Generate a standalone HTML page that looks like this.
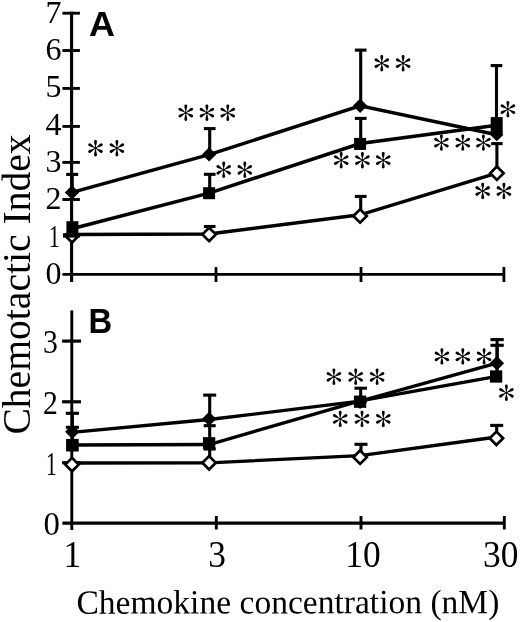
<!DOCTYPE html>
<html><head><meta charset="utf-8"><title>Chemotactic Index</title>
<style>
html,body{margin:0;padding:0;background:#fff;}
body{width:520px;height:622px;overflow:hidden;font-family:"Liberation Serif",serif;}
svg{display:block;filter:grayscale(1);}
text{font-family:"Liberation Serif",serif;fill:#000;}
text.b{font-family:"Liberation Sans",sans-serif;font-weight:bold;}
</style></head><body>
<svg width="520" height="622" viewBox="0 0 520 622">
<defs>
<path id="arm" d="M0,0.4 C0.45,-2.4 1.45,-5.2 1.45,-6.75 A1.45,1.45 0 0 0 -1.45,-6.75 C-1.45,-5.2 -0.45,-2.4 0,0.4 Z"/>
<g id="ast" fill="#000"><circle cx="0" cy="0" r="1.25"/><use href="#arm"/><use href="#arm" transform="rotate(60)"/><use href="#arm" transform="rotate(120)"/><use href="#arm" transform="rotate(180)"/><use href="#arm" transform="rotate(240)"/><use href="#arm" transform="rotate(300)"/></g>
</defs>
<rect x="0" y="0" width="520" height="622" fill="#fff"/>
<g id="panelA">
<line x1="71.60" y1="11.75" x2="71.60" y2="282.00" stroke="#000" stroke-width="3.1"/>
<polygon points="65.30,235.80 72.00,229.10 78.70,235.80 72.00,242.50" fill="#fff" stroke="#000" stroke-width="2.7"/>
<line x1="62.40" y1="274.40" x2="504.00" y2="274.40" stroke="#000" stroke-width="2.8"/>
<line x1="63.00" y1="235.40" x2="79.90" y2="235.40" stroke="#000" stroke-width="4.4"/>
<line x1="62.40" y1="199.50" x2="79.90" y2="199.50" stroke="#000" stroke-width="2.9"/>
<line x1="62.40" y1="162.40" x2="79.90" y2="162.40" stroke="#000" stroke-width="2.9"/>
<line x1="62.40" y1="126.40" x2="79.90" y2="126.40" stroke="#000" stroke-width="2.9"/>
<line x1="62.40" y1="88.40" x2="79.90" y2="88.40" stroke="#000" stroke-width="2.9"/>
<line x1="62.40" y1="50.50" x2="79.90" y2="50.50" stroke="#000" stroke-width="2.9"/>
<line x1="62.40" y1="13.20" x2="79.90" y2="13.20" stroke="#000" stroke-width="2.9"/>
<line x1="216.00" y1="267.00" x2="216.00" y2="282.00" stroke="#000" stroke-width="2.8"/>
<line x1="361.00" y1="267.00" x2="361.00" y2="282.00" stroke="#000" stroke-width="2.8"/>
<line x1="503.90" y1="267.00" x2="503.90" y2="282.00" stroke="#000" stroke-width="2.8"/>
<text x="61.4" y="283.90" font-size="32" text-anchor="end">0</text>
<text transform="translate(59.8,246.60) scale(0.69,1)" font-size="32" text-anchor="end">1</text>
<text x="61.4" y="209.30" font-size="32" text-anchor="end">2</text>
<text x="61.4" y="172.00" font-size="32" text-anchor="end">3</text>
<text x="61.4" y="134.70" font-size="32" text-anchor="end">4</text>
<text x="61.4" y="97.40" font-size="32" text-anchor="end">5</text>
<text x="61.4" y="60.10" font-size="32" text-anchor="end">6</text>
<text x="61.4" y="22.80" font-size="32" text-anchor="end">7</text>
<text transform="translate(89.0,35.7) scale(1.015,1)" font-size="35.4" class="b">A</text>
<line x1="72.20" y1="192.40" x2="72.20" y2="174.40" stroke="#000" stroke-width="3.1"/>
<line x1="66.20" y1="174.40" x2="78.20" y2="174.40" stroke="#000" stroke-width="3.1"/>
<line x1="209.70" y1="154.40" x2="209.70" y2="128.60" stroke="#000" stroke-width="3.1"/>
<line x1="203.85" y1="128.60" x2="215.55" y2="128.60" stroke="#000" stroke-width="3.1"/>
<line x1="360.70" y1="105.80" x2="360.70" y2="50.10" stroke="#000" stroke-width="3.1"/>
<line x1="354.85" y1="50.10" x2="366.55" y2="50.10" stroke="#000" stroke-width="3.1"/>
<line x1="496.50" y1="123.20" x2="496.50" y2="65.60" stroke="#000" stroke-width="3.1"/>
<line x1="490.65" y1="65.60" x2="502.35" y2="65.60" stroke="#000" stroke-width="3.1"/>
<line x1="209.70" y1="193.20" x2="209.70" y2="174.30" stroke="#000" stroke-width="3.1"/>
<line x1="203.85" y1="174.30" x2="215.55" y2="174.30" stroke="#000" stroke-width="3.1"/>
<line x1="360.70" y1="143.90" x2="360.70" y2="118.40" stroke="#000" stroke-width="3.1"/>
<line x1="354.85" y1="118.40" x2="366.55" y2="118.40" stroke="#000" stroke-width="3.1"/>
<line x1="209.70" y1="234.40" x2="209.70" y2="226.50" stroke="#000" stroke-width="3.1"/>
<line x1="203.85" y1="226.50" x2="215.55" y2="226.50" stroke="#000" stroke-width="3.1"/>
<line x1="360.70" y1="216.00" x2="360.70" y2="196.40" stroke="#000" stroke-width="3.1"/>
<line x1="354.85" y1="196.40" x2="366.55" y2="196.40" stroke="#000" stroke-width="3.1"/>
<line x1="496.90" y1="173.20" x2="496.90" y2="143.60" stroke="#000" stroke-width="3.1"/>
<line x1="491.20" y1="143.60" x2="502.60" y2="143.60" stroke="#000" stroke-width="3.1"/>
<polyline points="72.00,192.40 209.10,154.60 360.10,105.90 496.90,134.80" fill="none" stroke="#000" stroke-width="3.5" stroke-linejoin="miter"/>
<polyline points="72.00,228.80 209.10,193.10 360.10,143.50 496.90,125.20" fill="none" stroke="#000" stroke-width="3.5" stroke-linejoin="miter"/>
<polyline points="72.00,234.60 209.10,233.90 360.10,214.80 496.90,173.20" fill="none" stroke="#000" stroke-width="3.5" stroke-linejoin="miter"/>
<rect x="66.40" y="221.20" width="12.0" height="12.0" fill="#000"/>
<rect x="203.10" y="187.20" width="12.0" height="12.0" fill="#000"/>
<rect x="354.10" y="137.90" width="12.0" height="12.0" fill="#000"/>
<rect x="490.7" y="117.1" width="12" height="16.9" fill="#000"/>
<polygon points="64.80,192.40 72.00,185.20 79.20,192.40 72.00,199.60" fill="#000"/>
<polygon points="201.90,154.40 209.10,147.20 216.30,154.40 209.10,161.60" fill="#000"/>
<polygon points="352.90,105.80 360.10,98.60 367.30,105.80 360.10,113.00" fill="#000"/>
<polygon points="490.20,134.70 496.80,128.10 503.40,134.70 496.80,141.30" fill="#000"/>
<polygon points="202.40,234.40 209.10,227.70 215.80,234.40 209.10,241.10" fill="#fff" stroke="#000" stroke-width="2.7"/>
<polygon points="353.40,216.00 360.10,209.30 366.80,216.00 360.10,222.70" fill="#fff" stroke="#000" stroke-width="2.7"/>
<polygon points="490.20,173.20 496.90,166.50 503.60,173.20 496.90,179.90" fill="#fff" stroke="#000" stroke-width="2.7"/>
<use href="#ast" x="95.50" y="148.20"/>
<use href="#ast" x="116.90" y="148.20"/>
<use href="#ast" x="185.80" y="112.70"/>
<use href="#ast" x="206.90" y="112.70"/>
<use href="#ast" x="227.80" y="112.70"/>
<use href="#ast" x="223.70" y="169.80"/>
<use href="#ast" x="244.80" y="169.80"/>
<use href="#ast" x="381.80" y="63.20"/>
<use href="#ast" x="403.10" y="63.20"/>
<use href="#ast" x="341.20" y="160.20"/>
<use href="#ast" x="362.40" y="160.20"/>
<use href="#ast" x="383.20" y="160.20"/>
<use href="#ast" x="507.90" y="109.20"/>
<use href="#ast" x="441.40" y="142.60"/>
<use href="#ast" x="462.80" y="142.60"/>
<use href="#ast" x="483.40" y="142.60"/>
<use href="#ast" x="482.70" y="191.00"/>
<use href="#ast" x="503.90" y="191.00"/>
</g>
<g id="panelB">
<line x1="71.80" y1="310.40" x2="71.80" y2="530.00" stroke="#000" stroke-width="2.9"/>
<line x1="62.40" y1="523.20" x2="504.40" y2="523.20" stroke="#000" stroke-width="3.3"/>
<line x1="62.10" y1="462.70" x2="81.00" y2="462.70" stroke="#000" stroke-width="3.2"/>
<line x1="62.10" y1="401.80" x2="81.00" y2="401.80" stroke="#000" stroke-width="3.2"/>
<line x1="62.10" y1="341.10" x2="81.00" y2="341.10" stroke="#000" stroke-width="3.2"/>
<line x1="216.30" y1="516.00" x2="216.30" y2="529.50" stroke="#000" stroke-width="2.9"/>
<line x1="361.00" y1="516.00" x2="361.00" y2="529.50" stroke="#000" stroke-width="2.9"/>
<line x1="504.30" y1="516.00" x2="504.30" y2="529.50" stroke="#000" stroke-width="2.9"/>
<text transform="translate(60.0,535.40) scale(0.98,1)" font-size="33.5" text-anchor="end">0</text>
<text transform="translate(56.85,474.50) scale(0.65,1)" font-size="33" text-anchor="end">1</text>
<text transform="translate(57.8,413.50) scale(0.9,1)" font-size="33" text-anchor="end">2</text>
<text transform="translate(57.8,352.70) scale(0.9,1)" font-size="33" text-anchor="end">3</text>
<text transform="translate(88.4,332.7) scale(0.915,1)" font-size="35.8" class="b">B</text>
<line x1="72.40" y1="431.80" x2="72.40" y2="413.30" stroke="#000" stroke-width="3.1"/>
<line x1="65.80" y1="413.30" x2="79.00" y2="413.30" stroke="#000" stroke-width="3.1"/>
<line x1="72.40" y1="445.00" x2="72.40" y2="427.30" stroke="#000" stroke-width="3.1"/>
<line x1="65.90" y1="427.30" x2="78.90" y2="427.30" stroke="#000" stroke-width="3.1"/>
<line x1="209.70" y1="418.90" x2="209.70" y2="395.10" stroke="#000" stroke-width="3.1"/>
<line x1="203.20" y1="395.10" x2="216.20" y2="395.10" stroke="#000" stroke-width="3.1"/>
<line x1="209.70" y1="443.30" x2="209.70" y2="425.70" stroke="#000" stroke-width="3.1"/>
<line x1="203.70" y1="425.70" x2="215.70" y2="425.70" stroke="#000" stroke-width="3.1"/>
<line x1="209.70" y1="462.80" x2="209.70" y2="449.00" stroke="#000" stroke-width="3.1"/>
<line x1="203.70" y1="449.00" x2="215.70" y2="449.00" stroke="#000" stroke-width="3.1"/>
<line x1="360.70" y1="401.70" x2="360.70" y2="388.20" stroke="#000" stroke-width="3.1"/>
<line x1="354.45" y1="388.20" x2="366.95" y2="388.20" stroke="#000" stroke-width="3.1"/>
<line x1="361.00" y1="457.20" x2="361.00" y2="444.30" stroke="#000" stroke-width="3.1"/>
<line x1="354.50" y1="444.30" x2="367.50" y2="444.30" stroke="#000" stroke-width="3.1"/>
<line x1="497.10" y1="363.20" x2="497.10" y2="339.60" stroke="#000" stroke-width="3.1"/>
<line x1="490.45" y1="339.60" x2="503.75" y2="339.60" stroke="#000" stroke-width="3.1"/>
<line x1="497.10" y1="376.00" x2="497.10" y2="345.30" stroke="#000" stroke-width="3.1"/>
<line x1="490.45" y1="345.30" x2="503.75" y2="345.30" stroke="#000" stroke-width="3.1"/>
<line x1="496.70" y1="438.30" x2="496.70" y2="425.40" stroke="#000" stroke-width="3.1"/>
<line x1="490.20" y1="425.40" x2="503.20" y2="425.40" stroke="#000" stroke-width="3.1"/>
<polyline points="72.00,432.40 209.10,419.50 360.10,401.20 496.90,363.20" fill="none" stroke="#000" stroke-width="3.3" stroke-linejoin="miter"/>
<polyline points="72.00,445.00 209.10,444.50 360.10,400.90 496.90,376.30" fill="none" stroke="#000" stroke-width="3.3" stroke-linejoin="miter"/>
<polyline points="72.00,463.00 209.10,462.80 360.10,455.70 496.90,437.00" fill="none" stroke="#000" stroke-width="3.3" stroke-linejoin="miter"/>
<rect x="66.10" y="438.90" width="12.6" height="12.6" fill="#000"/>
<rect x="202.95" y="437.15" width="12.3" height="12.3" fill="#000"/>
<rect x="353.95" y="395.55" width="12.3" height="12.3" fill="#000"/>
<rect x="489.95" y="370.35" width="12.3" height="12.3" fill="#000"/>
<polygon points="65.10,431.80 72.30,424.60 79.50,431.80 72.30,439.00" fill="#000"/>
<polygon points="201.90,418.90 209.10,411.70 216.30,418.90 209.10,426.10" fill="#000"/>
<polygon points="352.90,401.90 360.10,394.70 367.30,401.90 360.10,409.10" fill="#000"/>
<polygon points="489.70,363.20 496.90,356.00 504.10,363.20 496.90,370.40" fill="#000"/>
<polygon points="65.30,464.60 72.00,457.90 78.70,464.60 72.00,471.30" fill="#fff" stroke="#000" stroke-width="2.7"/>
<polygon points="202.40,462.80 209.10,456.10 215.80,462.80 209.10,469.50" fill="#fff" stroke="#000" stroke-width="2.7"/>
<polygon points="353.40,457.20 360.10,450.50 366.80,457.20 360.10,463.90" fill="#fff" stroke="#000" stroke-width="2.7"/>
<polygon points="489.70,438.30 496.40,431.60 503.10,438.30 496.40,445.00" fill="#fff" stroke="#000" stroke-width="2.7"/>
<use href="#ast" x="333.90" y="376.80"/>
<use href="#ast" x="355.70" y="376.80"/>
<use href="#ast" x="377.10" y="376.80"/>
<use href="#ast" x="340.20" y="418.90"/>
<use href="#ast" x="362.00" y="418.90"/>
<use href="#ast" x="383.30" y="418.90"/>
<use href="#ast" x="441.90" y="356.40"/>
<use href="#ast" x="462.80" y="356.40"/>
<use href="#ast" x="484.10" y="356.40"/>
<use href="#ast" x="506.40" y="392.80"/>
</g>
<text transform="translate(72.3,567.2) scale(0.92,1)" font-size="38.5" text-anchor="middle">1</text>
<text transform="translate(217.1,567.2) scale(0.92,1)" font-size="38.5" text-anchor="middle">3</text>
<text transform="translate(363,567.2) scale(0.92,1)" font-size="38.5" text-anchor="middle">10</text>
<text transform="translate(500.8,567.2) scale(0.92,1)" font-size="38.5" text-anchor="middle">30</text>
<text transform="translate(287.9,613.4) rotate(-0.08) scale(0.987,1)" font-size="34" text-anchor="middle">Chemokine concentration (nM)</text>
<text transform="translate(29.7,284.5) rotate(-90) scale(1.003,1)" font-size="39.5" text-anchor="middle">Chemotactic Index</text>
</svg></body></html>
